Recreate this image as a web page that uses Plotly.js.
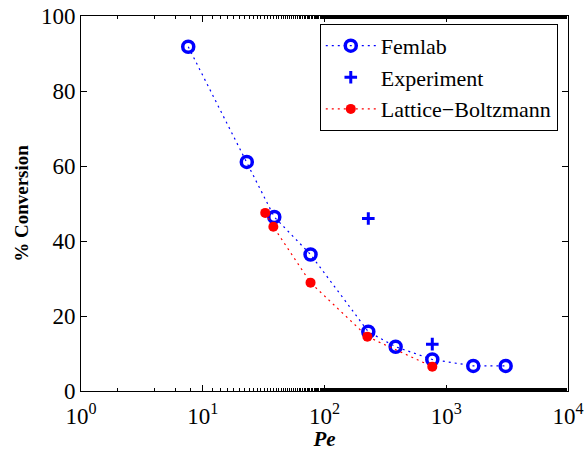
<!DOCTYPE html>
<html><head><meta charset="utf-8">
<script src="https://cdn.plot.ly/plotly-3.0.1.min.js"></script>
<style>html,body{margin:0;padding:0;background:#fff}#chart{width:585px;height:451px}</style>
</head><body><div id="chart"></div>
<script>
const femlabPe = [7.6, 23, 38.7, 76.8, 229, 384, 768, 1667, 3076];
const femlabConv = [91.8, 61.1, 46.4, 36.4, 15.8, 11.8, 8.4, 6.7, 6.7];
const expPe = [229, 768];
const expConv = [46.0, 12.5];
const lbPe = [32.6, 38.0, 76.8, 225, 768];
const lbConv = [47.5, 43.8, 28.9, 14.5, 6.5];
const xTickVals = [1, 10, 100, 1000, 10000];
const xTickText = ['10<sup>0</sup>', '10<sup>1</sup>', '10<sup>2</sup>', '10<sup>3</sup>', '10<sup>4</sup>'];
const yTickVals = [0, 20, 40, 60, 80, 100];

const font = "'Liberation Serif', 'Times New Roman', serif";
const traces = [
  {x: femlabPe, y: femlabConv, name: 'Femlab', mode: 'lines+markers', type: 'scatter',
   line: {color: '#0000ff', dash: '2px,4px', width: 1.2},
   marker: {symbol: 'circle-open', size: 11, color: '#0000ff', line: {width: 3.5, color: '#0000ff'}}},
  {x: expPe, y: expConv, name: 'Experiment', mode: 'markers', type: 'scatter',
   marker: {symbol: 'cross-thin-open', size: 9, color: '#0000ff', line: {width: 3, color: '#0000ff'}}},
  {x: lbPe, y: lbConv, name: 'Lattice\u2212Boltzmann', mode: 'lines+markers', type: 'scatter',
   line: {color: '#ff0000', dash: '2px,4px', width: 1.2},
   marker: {symbol: 'circle', size: 10, color: '#ff0000'}}
];
function axisBase() {
  return {showgrid: false, zeroline: false, showline: true, linecolor: '#000', linewidth: 1,
    mirror: 'ticks', ticks: 'inside', ticklen: 6, tickcolor: '#000',
    tickfont: {family: font, size: 23, color: '#000'}};
}
const layout = {
  width: 585, height: 451,
  margin: {l: 81, r: 17, t: 16, b: 60},
  paper_bgcolor: '#fff', plot_bgcolor: '#fff',
  font: {family: font, size: 23, color: '#000'},
  showlegend: true,
  legend: {x: 0.979, y: 0.979, xanchor: 'right', yanchor: 'top', bgcolor: '#fff',
    bordercolor: '#000', borderwidth: 1, font: {family: font, size: 22, color: '#000'},
    tracegroupgap: 0, itemwidth: 50},
  xaxis: Object.assign(axisBase(), {type: 'log', range: [0, 4], tickvals: xTickVals, ticktext: xTickText,
    ticklabelstandoff: 4,
    minor: {ticks: 'inside', ticklen: 3, tickcolor: '#000'},
    title: {text: '<b><i>Pe</i></b>', font: {family: font, size: 21, color: '#000'}, standoff: 0}}),
  yaxis: Object.assign(axisBase(), {range: [0, 100], tickvals: yTickVals,
    title: {text: '<b>% Conversion</b>', font: {family: font, size: 19, color: '#000'}, standoff: 7}})
};
Plotly.newPlot('chart', traces, layout, {displayModeBar: false, staticPlot: true});
</script></body></html>
